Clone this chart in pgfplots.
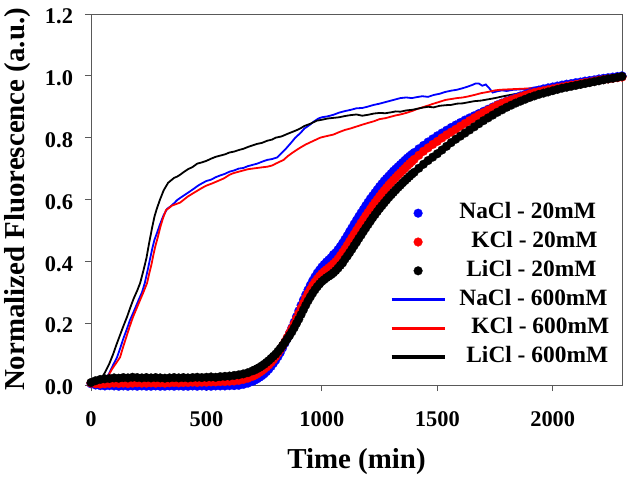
\documentclass[border=0pt]{standalone}
\usepackage{fontspec}
\setmainfont{Liberation Serif}
\usepackage{pgfplots}
\usepackage{pgfplotstable}
\pgfplotsset{compat=1.18}
\pgfplotsset{thicklegend/.style={legend image code/.code={\draw[##1,line width=3.5bp] (0bp,0bp)--(53bp,0bp);}}}

\pgfplotstableread{
t na k li
0 0.004 0.006 0.008
20 0.000 0.004 0.014
40 -0.002 0.003 0.018
60 -0.003 0.004 0.020
80 -0.002 0.005 0.021
100 -0.003 0.006 0.023
120 -0.004 0.005 0.022
140 -0.003 0.006 0.024
160 -0.004 0.005 0.023
180 -0.003 0.006 0.025
200 -0.004 0.007 0.024
220 -0.003 0.006 0.023
240 -0.004 0.006 0.024
260 -0.004 0.007 0.023
280 -0.003 0.006 0.024
300 -0.004 0.007 0.023
320 -0.004 0.006 0.022
340 -0.003 0.007 0.023
360 -0.004 0.008 0.024
380 -0.003 0.007 0.023
400 -0.004 0.008 0.024
420 -0.004 0.008 0.023
440 -0.003 0.009 0.024
460 -0.004 0.008 0.025
480 -0.003 0.009 0.024
500 -0.004 0.009 0.025
520 -0.004 0.010 0.026
540 -0.003 0.010 0.025
560 -0.003 0.011 0.027
580 -0.003 0.011 0.028
600 -0.002 0.012 0.029
620 -0.002 0.013 0.031
640 -0.001 0.015 0.033
660 0.002 0.018 0.036
680 0.006 0.022 0.040
700 0.012 0.028 0.046
710 0.016 0.032 0.049
720 0.020 0.036 0.053
730 0.025 0.041 0.057
740 0.030 0.046 0.062
750 0.036 0.052 0.067
760 0.043 0.058 0.073
770 0.051 0.065 0.079
780 0.060 0.073 0.086
790 0.070 0.082 0.093
800 0.080 0.092 0.100
810 0.092 0.103 0.109
820 0.105 0.115 0.118
830 0.120 0.127 0.128
840 0.135 0.140 0.138
850 0.151 0.154 0.149
860 0.168 0.168 0.160
870 0.185 0.183 0.172
880 0.203 0.198 0.185
890 0.221 0.215 0.199
900 0.240 0.232 0.213
910 0.258 0.249 0.228
920 0.275 0.265 0.243
930 0.292 0.281 0.258
940 0.308 0.296 0.272
950 0.323 0.309 0.285
960 0.337 0.322 0.297
970 0.350 0.333 0.308
980 0.362 0.343 0.318
990 0.372 0.352 0.327
1000 0.382 0.360 0.335
1010 0.390 0.367 0.341
1020 0.398 0.373 0.347
1030 0.405 0.379 0.352
1040 0.412 0.385 0.357
1050 0.422 0.392 0.363
1060 0.428 0.399 0.370
1070 0.438 0.408 0.378
1080 0.448 0.418 0.387
1090 0.459 0.429 0.395
1100 0.471 0.440 0.407
1110 0.483 0.452 0.417
1120 0.496 0.464 0.428
1130 0.508 0.476 0.439
1140 0.521 0.488 0.451
1150 0.533 0.500 0.462
1160 0.545 0.512 0.474
1170 0.557 0.524 0.485
1180 0.568 0.535 0.497
1190 0.580 0.547 0.508
1200 0.591 0.558 0.519
1210 0.602 0.569 0.530
1220 0.612 0.580 0.541
1230 0.622 0.590 0.551
1240 0.632 0.600 0.561
1250 0.642 0.610 0.571
1260 0.651 0.620 0.580
1270 0.660 0.629 0.589
1280 0.668 0.638 0.598
1290 0.676 0.647 0.607
1300 0.684 0.655 0.615
1310 0.692 0.663 0.623
1320 0.699 0.671 0.631
1330 0.706 0.679 0.639
1340 0.713 0.686 0.646
1350 0.720 0.694 0.654
1360 0.727 0.701 0.661
1370 0.734 0.709 0.668
1380 0.740 0.716 0.675
1390 0.746 0.723 0.682
1400 0.752 0.730 0.688
1420 0.764 0.743 0.701
1440 0.775 0.756 0.714
1460 0.786 0.767 0.726
1480 0.796 0.778 0.737
1500 0.806 0.788 0.748
1520 0.815 0.799 0.760
1540 0.824 0.809 0.772
1560 0.833 0.818 0.784
1580 0.841 0.827 0.795
1600 0.849 0.837 0.805
1620 0.857 0.846 0.815
1640 0.864 0.855 0.825
1660 0.871 0.864 0.835
1680 0.878 0.873 0.845
1700 0.885 0.881 0.855
1720 0.892 0.889 0.864
1740 0.899 0.897 0.873
1760 0.906 0.905 0.882
1780 0.912 0.911 0.890
1800 0.918 0.917 0.898
1820 0.924 0.922 0.905
1840 0.930 0.927 0.912
1860 0.935 0.932 0.918
1880 0.940 0.937 0.924
1900 0.945 0.942 0.930
1920 0.950 0.946 0.935
1940 0.954 0.949 0.940
1960 0.958 0.952 0.944
1980 0.961 0.955 0.948
2000 0.964 0.958 0.952
2020 0.967 0.961 0.956
2040 0.970 0.964 0.960
2060 0.973 0.967 0.963
2080 0.975 0.970 0.966
2100 0.978 0.972 0.969
2120 0.980 0.975 0.972
2140 0.983 0.978 0.975
2160 0.985 0.980 0.978
2180 0.987 0.983 0.981
2200 0.990 0.986 0.984
2220 0.992 0.988 0.987
2240 0.994 0.990 0.990
2260 0.996 0.992 0.992
2280 0.998 0.994 0.995
2300 1.000 0.996 0.998
}\lowsalt

\begin{document}
\begin{tikzpicture}
\begin{axis}[
  scale only axis, width=531bp, height=371bp,
  xmin=0, xmax=2300, ymin=0, ymax=1.2,
  clip=false,
  axis line style={black!65, line width=0.9bp},
  tick style={black!65, line width=0.9bp},
  tick align=outside, major tick length=6bp,
  xtick pos=left, ytick pos=left,
  xtick={0,500,1000,1500,2000}, xticklabels={0,500,1000,1500,2000},
  ytick={0,0.2,0.4,0.6,0.8,1.0,1.2}, yticklabels={0.0,0.2,0.4,0.6,0.8,1.0,1.2},
  tick label style={font=\fontsize{22.5}{22.5}\selectfont\bfseries},
  xticklabel style={yshift=-17bp},
  yticklabel style={xshift=-8.5bp, yshift=-2.5bp},
  xlabel={Time (min)}, ylabel={Normalized Fluorescence (a.u.)},
  label style={font=\fontsize{29}{29}\selectfont\bfseries},
  xlabel style={at={(axis description cs:0.5,-0.226)}, anchor=base},
  ylabel style={at={(axis description cs:-0.1375,0.5)}, anchor=center},
  legend style={draw=none, fill=none, inner sep=0pt, at={(axis description cs:0.9763,0.4919)}, anchor=north east,
    font=\fontsize{23.5}{23.5}\selectfont\bfseries, row sep=7.8bp, column sep=13bp,
    nodes={inner sep=0pt, text height=16bp, text depth=5bp}},
  legend cell align=left,
  legend image code/.code={\draw[mark repeat=2,mark phase=2,#1] plot coordinates {(0bp,0bp)(26.5bp,0bp)(53bp,0bp)};},
]
\addplot[only marks, mark=*, mark size=4.4bp, color=blue, mark options={fill=blue, draw=blue, line width=0.2bp}] table[x=t, y=na] {\lowsalt};
\addlegendentry{NaCl - 20mM}
\addplot[only marks, mark=*, mark size=4.4bp, color=red, mark options={fill=red, draw=red, line width=0.2bp}] table[x=t, y=k] {\lowsalt};
\addlegendentry{\hspace*{12bp}KCl - 20mM}
\addplot[only marks, mark=*, mark size=4.4bp, color=black, mark options={fill=black, draw=black, line width=0.2bp}] table[x=t, y=li] {\lowsalt};
\addlegendentry{\hspace*{7bp}LiCl - 20mM}

\addplot[blue, line width=1.8bp, thicklegend] coordinates {
(0,0.002)(20,0.000)(40,0.002)(52,0.006)(66,0.02)(80,0.04)(96,0.065)(113,0.09)(127,0.12)(140,0.15)(155,0.18)(169,0.21)(182,0.232)(195,0.255)(208,0.278)(221,0.30)(233,0.33)(245,0.37)(255,0.405)(265,0.44)(275,0.47)(285,0.49)(299,0.52)(315,0.55)(330,0.57)(345,0.578)(360,0.588)(373,0.598)(386,0.605)(400,0.612)(420,0.622)(440,0.632)(464,0.645)(480,0.652)(500,0.66)(520,0.664)(540,0.672)(560,0.678)(580,0.683)(600,0.69)(620,0.694)(640,0.70)(660,0.702)(680,0.708)(700,0.712)(720,0.716)(740,0.722)(763,0.728)(785,0.731)(806,0.736)(825,0.75)(845,0.765)(865,0.782)(885,0.80)(907,0.815)(925,0.83)(945,0.84)(965,0.852)(985,0.862)(1000,0.866)(1025,0.869)(1050,0.874)(1075,0.881)(1100,0.886)(1125,0.89)(1150,0.895)(1175,0.896)(1197,0.90)(1225,0.906)(1250,0.91)(1275,0.915)(1300,0.92)(1320,0.924)(1340,0.928)(1365,0.93)(1390,0.928)(1410,0.931)(1435,0.934)(1460,0.932)(1484,0.938)(1510,0.942)(1535,0.948)(1560,0.952)(1585,0.955)(1610,0.96)(1631,0.965)(1650,0.97)(1665,0.975)(1680,0.975)(1695,0.968)(1710,0.972)(1725,0.96)(1740,0.946)(1760,0.95)(1780,0.953)(1800,0.951)(1830,0.955)(1860,0.956)(1890,0.958)(1918,0.962)(1950,0.965)(1980,0.968)(2010,0.972)(2040,0.974)(2070,0.977)(2100,0.98)(2130,0.983)(2160,0.986)(2190,0.99)(2220,0.993)(2250,0.996)(2280,1.0)(2300,1.002)
};
\addlegendentry{NaCl - 600mM}
\addplot[red, line width=1.8bp, thicklegend] coordinates {
(0,0.0)(20,-0.002)(40,0.0)(60,0.01)(75,0.03)(90,0.05)(108,0.07)(126,0.09)(140,0.125)(155,0.16)(168,0.19)(182,0.22)(196,0.245)(210,0.27)(227,0.30)(243,0.33)(252,0.36)(262,0.39)(270,0.42)(278,0.447)(290,0.48)(300,0.51)(312,0.54)(325,0.566)(337,0.572)(350,0.58)(368,0.585)(386,0.59)(403,0.60)(420,0.61)(442,0.62)(464,0.63)(482,0.638)(500,0.645)(525,0.652)(550,0.66)(575,0.668)(600,0.68)(616,0.685)(640,0.69)(660,0.694)(680,0.698)(700,0.70)(720,0.702)(740,0.704)(763,0.706)(785,0.71)(800,0.716)(817,0.722)(834,0.728)(852,0.74)(870,0.75)(890,0.76)(907,0.768)(930,0.778)(950,0.785)(970,0.792)(993,0.80)(1020,0.805)(1050,0.81)(1075,0.818)(1100,0.825)(1125,0.83)(1150,0.836)(1175,0.842)(1197,0.847)(1225,0.853)(1250,0.86)(1275,0.863)(1300,0.868)(1320,0.872)(1340,0.875)(1365,0.88)(1390,0.886)(1410,0.892)(1435,0.898)(1460,0.904)(1484,0.91)(1510,0.916)(1535,0.922)(1560,0.925)(1585,0.928)(1610,0.93)(1631,0.933)(1660,0.938)(1690,0.944)(1720,0.948)(1750,0.953)(1774,0.955)(1800,0.956)(1830,0.957)(1860,0.958)(1890,0.959)(1918,0.96)(1950,0.962)(1980,0.964)(2010,0.966)(2040,0.968)(2070,0.971)(2100,0.974)(2130,0.977)(2160,0.979)(2190,0.982)(2220,0.985)(2250,0.988)(2280,0.991)(2300,0.993)
};
\addlegendentry{\hspace*{12bp}KCl - 600mM}
\addplot[black, line width=1.8bp, thicklegend] coordinates {
(0,0.006)(20,0.008)(39,0.016)(50,0.028)(60,0.04)(70,0.055)(80,0.07)(96,0.10)(110,0.13)(125,0.16)(140,0.19)(156,0.22)(170,0.25)(185,0.28)(200,0.305)(213,0.33)(227,0.37)(240,0.41)(252,0.46)(265,0.51)(275,0.545)(285,0.57)(299,0.60)(315,0.63)(334,0.654)(347,0.662)(360,0.67)(373,0.674)(386,0.68)(400,0.688)(420,0.698)(440,0.705)(460,0.716)(480,0.72)(500,0.725)(520,0.732)(540,0.738)(560,0.742)(580,0.746)(600,0.752)(620,0.755)(640,0.76)(660,0.764)(680,0.77)(700,0.775)(720,0.78)(740,0.783)(763,0.79)(785,0.794)(800,0.80)(825,0.804)(850,0.812)(870,0.818)(890,0.824)(907,0.83)(925,0.838)(950,0.845)(978,0.855)(1000,0.858)(1025,0.862)(1050,0.864)(1075,0.866)(1100,0.87)(1125,0.873)(1150,0.875)(1175,0.871)(1200,0.874)(1225,0.878)(1250,0.88)(1275,0.879)(1300,0.882)(1320,0.885)(1340,0.884)(1365,0.888)(1390,0.89)(1410,0.893)(1435,0.897)(1460,0.9)(1484,0.898)(1510,0.903)(1535,0.905)(1560,0.906)(1585,0.91)(1610,0.911)(1631,0.914)(1660,0.918)(1690,0.92)(1720,0.924)(1750,0.928)(1774,0.932)(1800,0.936)(1830,0.94)(1860,0.944)(1890,0.95)(1918,0.955)(1950,0.958)(1980,0.962)(2010,0.966)(2040,0.969)(2070,0.972)(2100,0.976)(2130,0.979)(2160,0.983)(2190,0.986)(2220,0.99)(2250,0.994)(2280,0.999)(2300,1.003)
};
\addlegendentry{\hspace*{7bp}LiCl - 600mM}
\end{axis}
\pgfresetboundingbox
\path[use as bounding box] ([shift={(-91bp,-96bp)}]current axis.south west) rectangle ([shift={(7bp,14bp)}]current axis.north east);
\end{tikzpicture}
\end{document}
